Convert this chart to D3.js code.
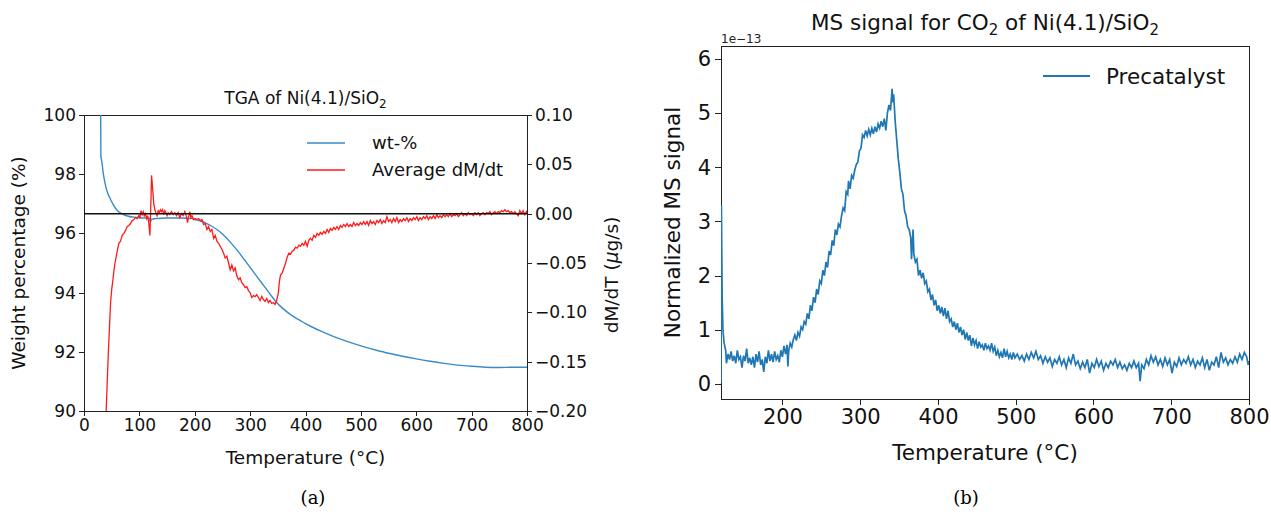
<!DOCTYPE html>
<html>
<head>
<meta charset="utf-8">
<style>
  body { margin: 0; background: #fff; }
  svg { font-family: "DejaVu Sans", sans-serif; }
  .axis path, .axis line { stroke: #222; shape-rendering: crispEdges; }
  .axis text { fill: #111; }
  .cap { font-family: "DejaVu Serif", "Liberation Serif", serif; font-size: 18px; text-anchor: middle; }
</style>
</head>
<body>
<div id="chart"></div>
<script src="https://d3js.org/d3.v7.min.js"></script>
<script>
// TGA weight curve [T in °C, wt-%]
const wtData = [
  [30,100.5],[30.5,98.6],[32,98.45],[35,98.0],[38,97.7],[42,97.4],[47,97.19],[52,97.0],[59,96.8],
  [65,96.7],[72,96.63],[80,96.58],[90,96.55],[100,96.53],[110,96.52],[118,96.52],[120,96.38],
  [122,96.48],[130,96.5],[150,96.52],[175,96.52],[195,96.5],[200,96.47],[210,96.42],[220,96.35],
  [230,96.25],[240,96.13],[250,95.98],[260,95.79],[270,95.58],[280,95.35],[290,95.1],[300,94.85],
  [310,94.6],[320,94.35],[330,94.1],[340,93.85],[350,93.62],[360,93.45],[370,93.3],[380,93.17],
  [390,93.06],[400,92.95],[425,92.72],[450,92.52],[475,92.35],[500,92.2],[525,92.07],[550,91.95],
  [575,91.85],[600,91.76],[625,91.68],[650,91.61],[675,91.55],[700,91.51],[725,91.48],[750,91.47],
  [775,91.48],[800,91.48]
];

// Average dM/dt [T, µg/s]
const dmData = [
  [40,-0.2],[42,-0.17],[44,-0.14],[46,-0.115],[48,-0.09],[50,-0.077],[52,-0.068],[54,-0.058],
  [56,-0.05],[58,-0.044],[60,-0.038],[63,-0.03],[66,-0.028],[69,-0.022],[72,-0.02],[75,-0.017],
  [78,-0.013],[81,-0.012],[84,-0.01],[87,-0.007],[90,-0.006],[93,-0.004],[96,-0.005],[99,-0.002],
  [101,-0.004],[103,0.003],[105,-0.001],[107,0.002],[109,-0.003],[111,0.001],[113,-0.005],
  [115,-0.002],[117,-0.01],[119,-0.022],[121,0.015],[122,0.039],[124,0.025],[126,0.01],[128,0.004],
  [130,0.001],[132,-0.002],[134,0.003],[136,0.001],[138,0.004],[140,0.002],[142,0.004],[144,-0.001],
  [146,0.003],[148,0.001],[150,-0.002],[152,0.001],[155,-0.001],[158,0.002],[161,-0.001],[164,0.001],
  [167,-0.002],[170,0.001],[173,-0.004],[176,0.0],[179,-0.002],[182,0.002],[185,-0.003],[187,-0.009],
  [189,-0.003],[191,0.002],[193,-0.004],[195,-0.002],[198,-0.006],[201,-0.005],[204,-0.006],
  [207,-0.005],[210,-0.007],[213,-0.006],[216,-0.011],[219,-0.01],[222,-0.016],[225,-0.013],
  [228,-0.018],[231,-0.016],[234,-0.025],[237,-0.022],[240,-0.028],[243,-0.03],[246,-0.033],
  [249,-0.036],[252,-0.04],[255,-0.045],[258,-0.043],[261,-0.05],[264,-0.057],[267,-0.052],
  [270,-0.058],[273,-0.055],[276,-0.063],[279,-0.067],[282,-0.065],[285,-0.07],[288,-0.072],
  [291,-0.075],[294,-0.074],[297,-0.078],[300,-0.08],[303,-0.085],[306,-0.083],[309,-0.084],
  [312,-0.082],[315,-0.085],[318,-0.088],[321,-0.084],[324,-0.087],[327,-0.089],[330,-0.086],
  [333,-0.09],[336,-0.088],[339,-0.091],[342,-0.09],[345,-0.092],[348,-0.088],[351,-0.08],
  [353,-0.068],[355,-0.062],[358,-0.06],[361,-0.055],[364,-0.05],[367,-0.044],[370,-0.04],
  [373,-0.041],[376,-0.038],[379,-0.037],[382,-0.034],[385,-0.035],[388,-0.032],[391,-0.033],
  [394,-0.03],[397,-0.032],[400,-0.028],[403,-0.033],[406,-0.027],[409,-0.025],[412,-0.027],
  [415,-0.022],[418,-0.024],[421,-0.02],[424,-0.022],[427,-0.019],[430,-0.021],[433,-0.018],
  [436,-0.02],[439,-0.016],[442,-0.019],[445,-0.015],[448,-0.017],[451,-0.014],[454,-0.016],
  [457,-0.013],[460,-0.016],[463,-0.012],[466,-0.014],[469,-0.011],[472,-0.013],[475,-0.01],
  [478,-0.013],[481,-0.011],[484,-0.013],[487,-0.009],[490,-0.012],[493,-0.01],[496,-0.012],
  [499,-0.009],[502,-0.011],[505,-0.008],[508,-0.011],[511,-0.008],[514,-0.012],[517,-0.007],
  [520,-0.01],[523,-0.008],[526,-0.011],[529,-0.007],[532,-0.009],[535,-0.006],[538,-0.01],
  [541,-0.007],[544,-0.009],[547,-0.003],[550,-0.008],[553,-0.006],[556,-0.009],[559,-0.005],
  [562,-0.008],[565,-0.004],[568,-0.009],[571,-0.006],[574,-0.008],[577,-0.005],[580,-0.007],
  [583,-0.004],[586,-0.008],[589,-0.005],[592,-0.007],[595,-0.004],[598,-0.006],[601,-0.003],
  [604,-0.007],[607,-0.004],[610,-0.006],[613,-0.003],[616,-0.005],[619,-0.002],[622,-0.006],
  [625,-0.003],[628,-0.005],[631,-0.002],[634,-0.005],[637,-0.001],[640,-0.004],[643,-0.002],
  [646,-0.004],[649,-0.001],[652,-0.003],[655,-0.001],[658,-0.003],[661,0.0],[664,-0.003],
  [667,-0.001],[670,-0.002],[673,0.0],[676,-0.003],[679,-0.001],[682,0.001],[685,-0.002],[688,0.0],
  [691,-0.002],[694,0.001],[697,-0.001],[700,0.0],[703,-0.002],[706,0.001],[709,-0.001],[712,0.001],
  [715,-0.002],[718,0.0],[721,0.001],[724,-0.001],[727,0.001],[730,0.0],[733,0.002],[736,-0.001],
  [739,0.001],[742,0.002],[745,0.0],[748,0.002],[751,0.001],[754,0.003],[757,0.002],[760,0.004],
  [763,0.002],[766,0.003],[769,0.001],[772,0.002],[775,0.0],[778,0.002],[781,0.0],[784,-0.002],
  [787,0.003],[790,0.0],[793,0.003],[796,-0.001],[799,0.002],[800,0.0]
];

// MS signal for CO2 [T, signal in 1e-13]
const msData = [
  [121,0.02],[121.5,3.3],[122.5,1.6],[123.5,1.0],[125,0.75],[127,0.62],[128,0.38],[130,0.55],
  [132,0.45],[134,0.6],[136,0.42],[138,0.52],[140,0.38],[142,0.62],[144,0.45],[146,0.5],[148,0.3],
  [150,0.52],[152,0.42],[154,0.65],[156,0.38],[158,0.48],[160,0.35],[162,0.5],[164,0.3],[166,0.55],
  [168,0.4],[170,0.6],[172,0.35],[174,0.45],[176,0.22],[178,0.5],[180,0.38],[182,0.62],[184,0.42],
  [186,0.55],[188,0.4],[190,0.6],[192,0.45],[194,0.52],[196,0.4],[198,0.62],[200,0.5],[202,0.7],
  [204,0.55],[206,0.72],[207,0.32],[208,0.6],[210,0.75],[212,0.68],[214,0.82],[216,0.9],[218,0.8],
  [220,0.95],[222,0.88],[224,1.05],[226,1.0],[228,1.15],[230,1.1],[232,1.3],[234,1.2],[236,1.45],
  [238,1.35],[240,1.6],[242,1.5],[244,1.75],[246,1.65],[248,1.9],[250,1.85],[252,2.1],[254,2.0],
  [256,2.25],[258,2.15],[260,2.45],[262,2.38],[264,2.65],[266,2.55],[268,2.85],[270,2.75],[272,2.95],
  [274,2.9],[276,3.1],[278,3.25],[280,3.2],[282,3.55],[284,3.5],[285,3.75],[287,3.6],[289,3.85],
  [291,3.8],[293,3.95],[295,4.05],[297,4.1],[299,4.3],[301,4.35],[303,4.6],[305,4.55],[307,4.68],
  [309,4.58],[311,4.7],[313,4.6],[315,4.72],[317,4.62],[319,4.75],[321,4.65],[323,4.8],[325,4.72],
  [327,4.85],[329,4.75],[331,4.9],[333,4.68],[335,5.0],[337,5.15],[339,5.05],[341,5.45],[342,5.2],
  [343,5.35],[345,4.85],[347,4.5],[349,4.15],[351,3.9],[353,3.6],[355,3.5],[357,3.2],[359,3.1],
  [361,2.9],[363,2.85],[365,2.7],[366,2.3],[368,2.85],[369,2.4],[371,2.25],[373,2.3],[375,2.0],
  [377,2.1],[379,1.95],[381,2.05],[383,1.85],[385,1.9],[387,1.7],[389,1.75],[391,1.55],[393,1.65],
  [395,1.45],[397,1.55],[399,1.35],[401,1.45],[403,1.3],[405,1.42],[407,1.25],[409,1.4],[411,1.2],
  [413,1.35],[415,1.15],[417,1.2],[419,1.05],[421,1.15],[423,1.0],[425,1.12],[427,0.95],[429,1.05],
  [431,0.9],[433,1.0],[435,0.82],[437,0.95],[439,0.8],[441,0.9],[443,0.7],[445,0.85],[447,0.72],
  [449,0.8],[451,0.65],[453,0.78],[455,0.68],[457,0.72],[459,0.62],[461,0.75],[463,0.65],[465,0.7],
  [467,0.62],[469,0.75],[471,0.6],[473,0.68],[475,0.52],[477,0.62],[479,0.5],[481,0.58],[483,0.48],
  [485,0.65],[487,0.5],[489,0.6],[491,0.48],[493,0.55],[495,0.45],[497,0.58],[499,0.48],[502,0.55],
  [505,0.45],[508,0.52],[511,0.42],[514,0.55],[517,0.45],[520,0.58],[523,0.48],[526,0.6],[529,0.45],
  [532,0.52],[535,0.38],[538,0.5],[541,0.4],[544,0.48],[547,0.32],[550,0.45],[553,0.38],[556,0.5],
  [559,0.35],[562,0.45],[565,0.3],[568,0.48],[571,0.38],[574,0.55],[577,0.35],[580,0.42],[583,0.28],
  [586,0.4],[589,0.3],[592,0.45],[595,0.2],[598,0.38],[601,0.3],[604,0.45],[607,0.32],[610,0.42],
  [613,0.25],[616,0.38],[619,0.3],[622,0.42],[625,0.35],[628,0.45],[631,0.3],[634,0.4],[637,0.28],
  [640,0.35],[643,0.25],[646,0.38],[649,0.3],[652,0.42],[655,0.3],[658,0.38],[660,0.05],[662,0.35],
  [665,0.28],[668,0.45],[671,0.35],[674,0.52],[677,0.4],[680,0.5],[683,0.35],[686,0.45],[689,0.32],
  [692,0.48],[695,0.35],[698,0.45],[701,0.2],[704,0.4],[707,0.32],[710,0.48],[713,0.35],[716,0.45],
  [719,0.38],[722,0.5],[725,0.35],[728,0.45],[731,0.3],[734,0.42],[737,0.35],[740,0.48],[743,0.3],
  [746,0.45],[749,0.25],[752,0.4],[755,0.35],[758,0.5],[761,0.3],[764,0.58],[767,0.4],[770,0.48],
  [773,0.35],[776,0.45],[779,0.38],[782,0.5],[785,0.4],[788,0.55],[791,0.45],[794,0.58],[797,0.5],
  [799,0.35],[800,0.42]
];

const xTicksA = [0, 100, 200, 300, 400, 500, 600, 700, 800];
const yTicksA = [90, 92, 94, 96, 98, 100];
const y2TicksA = [-0.2, -0.15, -0.1, -0.05, 0, 0.05, 0.1];
const xTicksB = [200, 300, 400, 500, 600, 700, 800];
const yTicksB = [0, 1, 2, 3, 4, 5, 6];

const svg = d3.select("#chart").append("svg")
  .attr("width", 1271).attr("height", 515);

// ---------- (a) TGA ----------
const a = { left: 84, right: 527, top: 115, bottom: 411 };
const xA = d3.scaleLinear().domain([0, 800]).range([a.left, a.right]);
const yA = d3.scaleLinear().domain([90, 100]).range([a.bottom, a.top]);
const y2A = d3.scaleLinear().domain([-0.2, 0.1]).range([a.bottom, a.top]);

svg.append("clipPath").attr("id", "clipA").append("rect")
  .attr("x", a.left).attr("y", a.top).attr("width", a.right - a.left).attr("height", a.bottom - a.top);

const gA = svg.append("g");
gA.append("g").attr("class", "axis").attr("transform", "translate(0," + a.bottom + ")")
  .call(d3.axisBottom(xA).tickValues(xTicksA).tickSize(5).tickSizeOuter(0).tickPadding(3))
  .style("font-size", "17px").style("font-family", "DejaVu Sans");
gA.append("g").attr("class", "axis").attr("transform", "translate(" + a.left + ",0)")
  .call(d3.axisLeft(yA).tickValues(yTicksA).tickSize(5).tickSizeOuter(0).tickPadding(3))
  .style("font-size", "17px").style("font-family", "DejaVu Sans");
gA.append("g").attr("class", "axis").attr("transform", "translate(" + a.right + ",0)")
  .call(d3.axisRight(y2A).tickValues(y2TicksA).tickFormat(d3.format(".2f")).tickSize(5).tickSizeOuter(0).tickPadding(3))
  .style("font-size", "17px").style("font-family", "DejaVu Sans");
gA.append("line").attr("x1", a.left).attr("x2", a.right).attr("y1", a.top).attr("y2", a.top)
  .attr("stroke", "#222").attr("shape-rendering", "crispEdges");

const plotA = gA.append("g").attr("clip-path", "url(#clipA)");
plotA.append("path").datum(wtData)
  .attr("fill", "none").attr("stroke", "#3a8ac8").attr("stroke-width", 1.4)
  .attr("d", d3.line().x(d => xA(d[0])).y(d => yA(d[1])).curve(d3.curveMonotoneX));
plotA.append("path").datum(dmData)
  .attr("fill", "none").attr("stroke", "#ff1a1a").attr("stroke-width", 1.3)
  .attr("d", d3.line().x(d => xA(d[0])).y(d => y2A(d[1])));
plotA.append("line").attr("x1", a.left).attr("x2", a.right)
  .attr("y1", y2A(0)).attr("y2", y2A(0)).attr("stroke", "#111").attr("stroke-width", 1.5);

// legend (a)
const legA = [["wt-%", "#3a8ac8"], ["Average dM/dt", "#ff1a1a"]];
legA.forEach((l, i) => {
  const yy = 143 + i * 27;
  gA.append("line").attr("x1", 307).attr("x2", 345).attr("y1", yy).attr("y2", yy)
    .attr("stroke", l[1]).attr("stroke-width", 1.6);
  gA.append("text").attr("x", 372).attr("y", yy + 6).attr("font-size", "18px").attr("fill", "#111").text(l[0]);
});

// titles (a)
const tA = gA.append("text").attr("x", (a.left + a.right) / 2).attr("y", 104)
  .attr("text-anchor", "middle").attr("font-size", "17px").attr("fill", "#111");
tA.append("tspan").text("TGA of Ni(4.1)/SiO");
tA.append("tspan").attr("font-size", "12px").attr("dy", 4).text("2");

gA.append("text").attr("x", (a.left + a.right) / 2).attr("y", 464)
  .attr("text-anchor", "middle").attr("font-size", "18.5px").attr("fill", "#111").text("Temperature (°C)");
gA.append("text").attr("transform", "translate(25," + (a.top + a.bottom) / 2 + ") rotate(-90)")
  .attr("text-anchor", "middle").attr("font-size", "18.5px").attr("fill", "#111").text("Weight percentage (%)");
const r2 = gA.append("text").attr("transform", "translate(618," + (y2A(-0.05) + 12) + ") rotate(-90)")
  .attr("text-anchor", "middle").attr("font-size", "18.5px").attr("fill", "#111");
r2.append("tspan").text("dM/dT (");
r2.append("tspan").attr("font-style", "italic").text("μ");
r2.append("tspan").text("g/s)");

// ---------- (b) MS signal ----------
const b = { left: 721, right: 1249, top: 46, bottom: 399 };
const xB = d3.scaleLinear().domain([121, 800]).range([b.left, b.right]);
const yB = d3.scaleLinear().domain([-0.28, 6.24]).range([b.bottom, b.top]);

svg.append("clipPath").attr("id", "clipB").append("rect")
  .attr("x", b.left).attr("y", b.top).attr("width", b.right - b.left).attr("height", b.bottom - b.top);

const gB = svg.append("g");
gB.append("g").attr("class", "axis").attr("transform", "translate(0," + b.bottom + ")")
  .call(d3.axisBottom(xB).tickValues(xTicksB).tickSize(6).tickSizeOuter(0).tickPadding(4))
  .style("font-size", "21px").style("font-family", "DejaVu Sans");
gB.append("g").attr("class", "axis").attr("transform", "translate(" + b.left + ",0)")
  .call(d3.axisLeft(yB).tickValues(yTicksB).tickFormat(d3.format("d")).tickSize(6).tickSizeOuter(0).tickPadding(4))
  .style("font-size", "21px").style("font-family", "DejaVu Sans");
gB.append("rect").attr("x", b.left).attr("y", b.top).attr("width", b.right - b.left)
  .attr("height", b.bottom - b.top).attr("fill", "none").attr("stroke", "#222")
  .attr("shape-rendering", "crispEdges");

gB.append("g").attr("clip-path", "url(#clipB)")
  .append("path").datum(msData)
  .attr("fill", "none").attr("stroke", "#1f77b4").attr("stroke-width", 1.7)
  .attr("d", d3.line().x(d => xB(d[0])).y(d => yB(d[1])));

gB.append("text").attr("x", b.left).attr("y", 43).attr("font-size", "12px").attr("fill", "#222").text("1e−13");

gB.append("line").attr("x1", 1043).attr("x2", 1090).attr("y1", 76).attr("y2", 76)
  .attr("stroke", "#1f77b4").attr("stroke-width", 1.8);
gB.append("text").attr("x", 1106).attr("y", 84).attr("font-size", "21.5px").attr("fill", "#111").text("Precatalyst");

const tB = gB.append("text").attr("x", (b.left + b.right) / 2).attr("y", 30)
  .attr("text-anchor", "middle").attr("font-size", "21.5px").attr("fill", "#111");
tB.append("tspan").text("MS signal for CO");
tB.append("tspan").attr("font-size", "15px").attr("dy", 5).text("2");
tB.append("tspan").attr("dy", -5).text(" of Ni(4.1)/SiO");
tB.append("tspan").attr("font-size", "15px").attr("dy", 5).text("2");

gB.append("text").attr("x", (b.left + b.right) / 2).attr("y", 460)
  .attr("text-anchor", "middle").attr("font-size", "21.5px").attr("fill", "#111").text("Temperature (°C)");
gB.append("text").attr("transform", "translate(680," + (b.top + b.bottom) / 2 + ") rotate(-90)")
  .attr("text-anchor", "middle").attr("font-size", "21.5px").attr("fill", "#111").text("Normalized MS signal");

// captions
svg.append("text").attr("class", "cap").attr("x", 313).attr("y", 504).text("(a)");
svg.append("text").attr("class", "cap").attr("x", 966).attr("y", 504).text("(b)");
</script>
</body>
</html>
